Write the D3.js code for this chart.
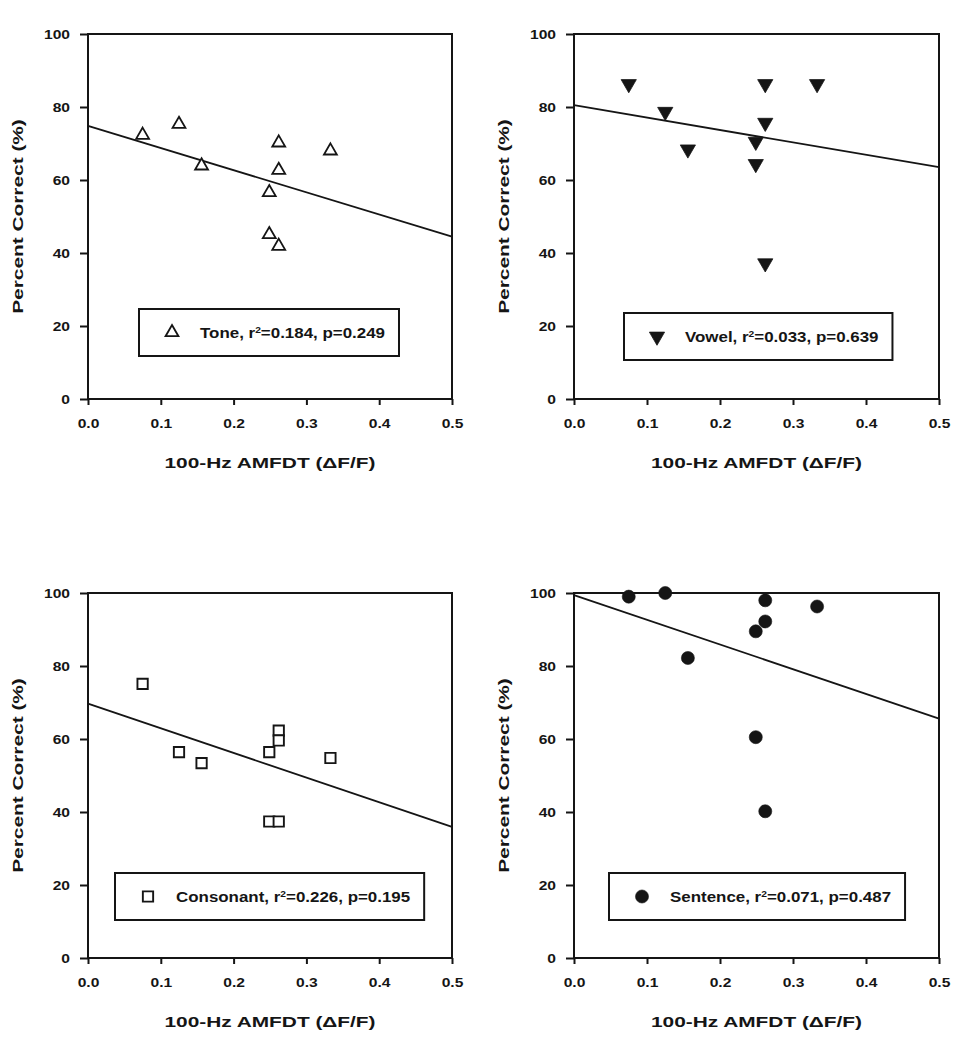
<!DOCTYPE html>
<html><head><meta charset="utf-8">
<script src="https://cdn.jsdelivr.net/npm/d3@7"></script>
<style>
body{margin:0;background:#fff}
svg{display:block}
text{font-family:"Liberation Sans",Arial,Helvetica,sans-serif;font-weight:bold;fill:#151515}
</style>
</head><body>
<svg id="c" width="969" height="1038"></svg>
<script>
// ---------- data ----------
const xTicks = [0, 0.1, 0.2, 0.3, 0.4, 0.5];
const yTicks = [0, 20, 40, 60, 80, 100];
const xValues = [0.075, 0.125, 0.156, 0.249, 0.249, 0.262, 0.262, 0.262, 0.333];
const panelNames = ["Tone", "Vowel", "Consonant", "Sentence"];
const toneValues      = [72.3, 75.3, 63.9, 56.6, 45.1, 70.2, 62.7, 41.9, 68.0];
const vowelValues     = [86.3, 78.7, 68.4, 70.5, 64.4, 86.3, 75.7, 37.2, 86.3];
const consonantValues = [75.1, 56.4, 53.4, 56.4, 37.4, 62.3, 59.6, 37.4, 54.8];
const sentenceValues  = [99.0, 100.0, 82.2, 89.5, 60.5, 98.0, 92.2, 40.2, 96.3];
const r2Labels = ["0.184", "0.033", "0.226", "0.071"];
const pLabels  = ["0.249", "0.639", "0.195", "0.487"];
const fitStart = [74.8, 80.5, 69.7, 99.4];   // fitted value at x = 0
const fitEnd   = [44.5, 63.5, 35.9, 65.6];   // fitted value at x = 0.5
const xTitle = "100-Hz AMFDT (\u0394F/F)";
const yTitle = "Percent Correct (%)";

// ---------- layout / style ----------
const layout = [
  {left: 88,  top: 34,  w: 364, h: 365, legX: 51, legY: 275, marker: "triUp"},
  {left: 574, top: 34,  w: 365, h: 365, legX: 50, legY: 279, marker: "triDown"},
  {left: 88,  top: 593, w: 364, h: 365, legX: 27, legY: 280, marker: "square"},
  {left: 574, top: 593, w: 365, h: 365, legX: 35, legY: 280, marker: "circle"}
];
const seriesValues = [toneValues, vowelValues, consonantValues, sentenceValues];
const INK = "#151515";
const tickFont = 12.5, kTick = 1.25;
const titleFont = 15, kTitle = 1.39;
const legFont = 14, kLeg = 1.21;

const svg = d3.select("#c");

function drawMarker(sel, type) {
  if (type === "triUp") {
    sel.attr("d", d3.symbol(d3.symbolTriangle, 72)()).attr("fill", "#fff")
       .attr("stroke", INK).attr("stroke-width", 1.8);
  } else if (type === "triDown") {
    sel.attr("d", d3.symbol(d3.symbolTriangle, 100)()).attr("fill", INK)
       .attr("stroke", INK).attr("stroke-width", 0.8);
  } else if (type === "square") {
    sel.attr("d", d3.symbol(d3.symbolSquare, 106)()).attr("fill", "#fff")
       .attr("stroke", INK).attr("stroke-width", 1.9);
  } else {
    sel.attr("d", d3.symbol(d3.symbolCircle, 134)()).attr("fill", INK)
       .attr("stroke", INK).attr("stroke-width", 0.6);
  }
}

layout.forEach((L, i) => {
  const x = d3.scaleLinear().domain([0, 0.5]).range([0, L.w]);
  const y = d3.scaleLinear().domain([0, 100]).range([L.h, 0]);
  const g = svg.append("g").attr("transform", `translate(${L.left},${L.top})`);

  // axes
  const ax = g.append("g").attr("transform", `translate(0,${L.h})`)
    .call(d3.axisBottom(x).tickValues(xTicks).tickFormat(d3.format(".1f"))
      .tickSize(6).tickPadding(14.5).tickSizeOuter(0));
  const ay = g.append("g")
    .call(d3.axisLeft(y).tickValues(yTicks).tickFormat(d3.format("d"))
      .tickSize(8).tickPadding(10).tickSizeOuter(0));
  [ax, ay].forEach(a => {
    a.select(".domain").remove();
    a.selectAll("line").attr("stroke", INK).attr("stroke-width", 2);
    a.selectAll("text").attr("font-size", tickFont).attr("fill", INK)
      .style("font-family", '"Liberation Sans",Arial,sans-serif').style("font-weight", "bold");
  });
  ax.selectAll("text").each(function() {
    const t = d3.select(this); const yy = +t.attr("y");
    t.attr("y", 0).attr("transform", `translate(0,${yy}) scale(${kTick},1)`);
  });
  ay.selectAll("text").each(function() {
    const t = d3.select(this); const xx = +t.attr("x");
    t.attr("x", 0).attr("transform", `translate(${xx},0) scale(${kTick},1)`);
  });

  // frame
  g.append("rect").attr("x", 0).attr("y", 0).attr("width", L.w).attr("height", L.h)
    .attr("fill", "none").attr("stroke", INK).attr("stroke-width", 2);

  // regression line
  g.append("line")
    .attr("x1", x(0)).attr("y1", y(fitStart[i]))
    .attr("x2", x(0.5)).attr("y2", y(fitEnd[i]))
    .attr("stroke", INK).attr("stroke-width", 1.8);

  // points
  const pts = xValues.map((xv, j) => ({x: xv, y: seriesValues[i][j]}));
  g.selectAll("path.pt").data(pts).enter().append("path").attr("class", "pt")
    .attr("transform", d => `translate(${x(d.x)},${y(d.y)})` + (L.marker === "triDown" ? " rotate(180)" : ""))
    .call(s => drawMarker(s, L.marker));

  // axis titles
  g.append("text").attr("text-anchor", "middle").attr("font-size", titleFont)
    .attr("transform", `translate(${L.w / 2},${L.h + 69}) scale(${kTitle},1)`)
    .text(xTitle);
  g.append("text").attr("text-anchor", "middle").attr("font-size", titleFont)
    .attr("transform", `translate(-65,${L.h / 2}) rotate(-90) scale(${kTitle},1)`)
    .text(yTitle);

  // legend
  const lg = g.append("g").attr("transform", `translate(${L.legX},${L.legY})`);
  const box = lg.append("rect").attr("x", 0).attr("y", 0).attr("height", 47)
    .attr("fill", "#fff").attr("stroke", INK).attr("stroke-width", 2);
  lg.append("path").attr("transform", `translate(33,23.5)` + (L.marker === "triDown" ? " rotate(180)" : ""))
    .call(s => drawMarker(s, L.marker));
  const lt = lg.append("text").attr("font-size", legFont)
    .attr("transform", `translate(61,29) scale(${kLeg},1)`);
  lt.append("tspan").text(panelNames[i] + ", r");
  lt.append("tspan").attr("font-size", 8.5).attr("dy", -5.5).text("2");
  lt.append("tspan").attr("font-size", legFont).attr("dy", 5.5).text("=" + r2Labels[i] + ", p=" + pLabels[i]);
  const tw = lt.node().getComputedTextLength() * kLeg;
  box.attr("width", 61 + tw + 14);
});
</script>
</body></html>
